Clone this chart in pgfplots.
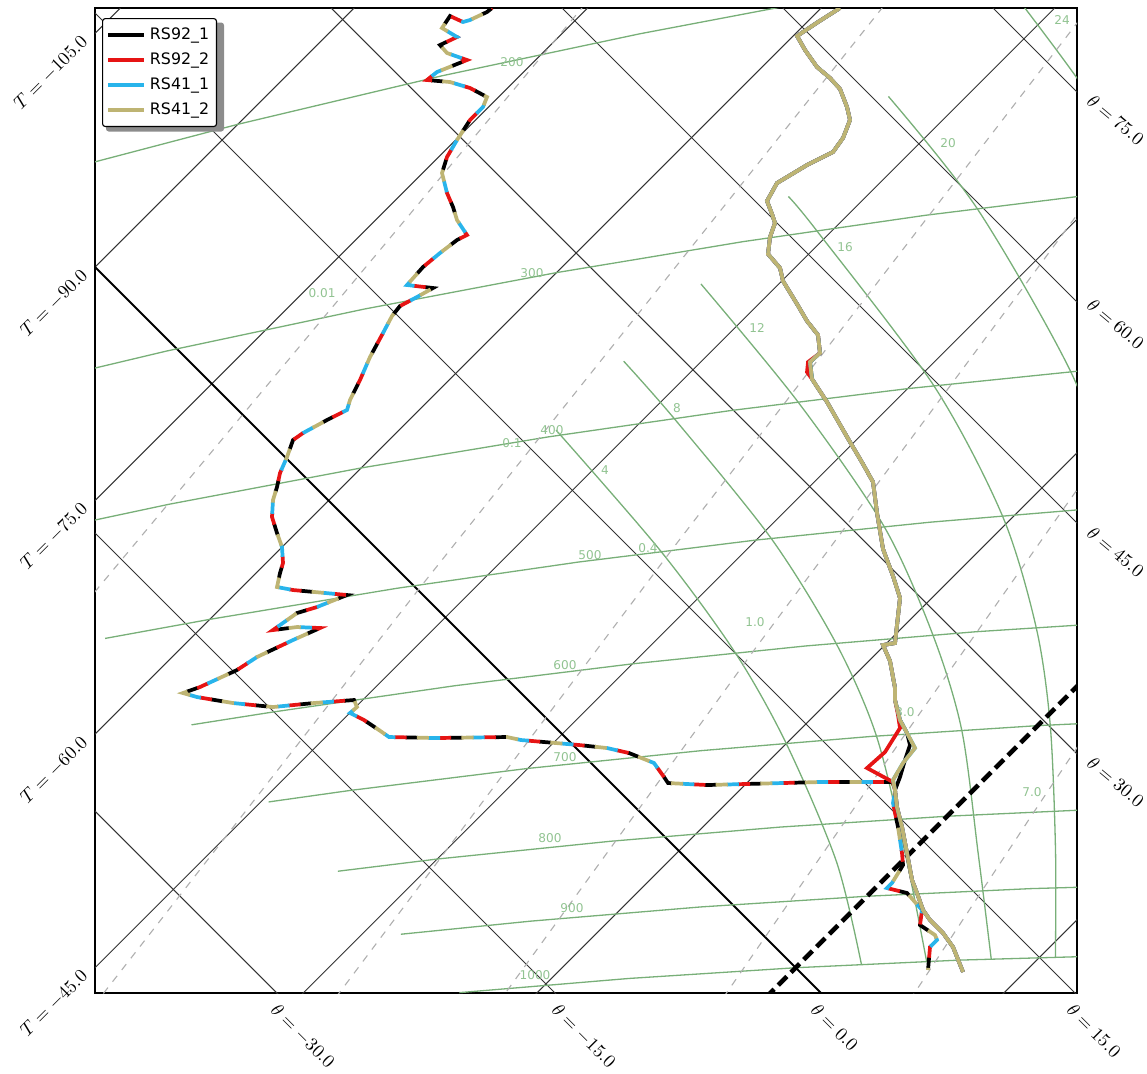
\documentclass[border=0pt]{standalone}
\usepackage{pgfplots}
\pgfplotsset{compat=1.18}
\usepackage{pgfplotstable}
\usepackage{fontspec}
\newfontfamily\dejavu{DejaVu Sans}
\definecolor{rsred}{RGB}{230,20,20}
\definecolor{rscyan}{RGB}{40,180,235}
\definecolor{rstan}{RGB}{190,180,115}
\definecolor{gline}{RGB}{120,175,120}
\definecolor{gtext}{RGB}{145,195,145}
\definecolor{mrline}{RGB}{175,175,175}

% dew point profile (pixel coordinates of the reference)
\pgfplotstableread{
x y
492 8
487 12
470 20
463 22
450 16
442 28
457 37
440 45
447 53
467 60
437 72
427 80
450 82
470 88
487 97
483 107
470 120
457 140
447 157
442 173
447 193
453 207
457 220
467 235
457 240
440 253
423 267
407 285
433 288
417 297
400 306
392 316
383 333
370 357
360 380
350 400
347 410
327 420
303 433
293 440
287 457
280 473
277 487
273 500
272 517
277 533
282 547
283 563
280 573
277 587
293 590
347 595
317 607
297 613
273 630
297 627
320 628
293 640
257 657
237 670
200 687
183 693
197 697
233 703
273 707
314 703
354 700
357 707
350 713
364 720
379 730
389 737
436 738
507 737
521 740
579 745
607 748
629 753
639 757
654 763
664 777
668 783
707 785
820 782
863 782
892 782
895 790
893 803
895 813
898 827
900 840
902 853
903 865
900 870
892 883
887 888
907 893
922 910
920 925
935 935
937 940
930 947
928 970
}\dewpath

% temperature profile
\pgfplotstableread{
x y
840 8
818 22
797 36
805 50
817 67
830 78
840 89
847 107
850 120
843 138
833 152
807 165
777 183
767 201
772 214
775 223
770 237
768 254
780 268
783 281
797 304
807 321
818 335
820 353
810 362
812 379
827 402
850 442
863 464
873 482
877 513
883 549
893 576
900 598
897 625
895 643
883 645
890 661
895 688
895 700
900 720
907 733
915 748
903 763
893 780
895 790
897 807
902 827
907 853
912 880
917 893
923 910
930 920
943 933
953 947
963 972
}\temppath

\pgfplotstableread{
x y
840 8
818 22
797 36
805 50
817 67
830 78
840 89
847 107
850 120
843 138
833 152
807 165
777 183
767 201
772 214
775 223
770 237
768 254
780 268
783 281
797 304
807 321
818 335
820 353
808 362
807 372
812 379
827 402
850 442
863 464
873 482
877 513
883 549
893 576
900 598
897 625
895 643
883 645
890 661
895 688
895 700
898 715
900 728
885 752
867 768
880 775
893 782
895 790
897 807
902 827
907 853
912 880
917 893
923 910
930 920
943 933
953 947
963 972
}\temppathred

\pgfplotstableread{
x y
840 8
818 22
797 36
805 50
817 67
830 78
840 89
847 107
850 120
843 138
833 152
807 165
777 183
767 201
772 214
775 223
770 237
768 254
780 268
783 281
797 304
807 321
818 335
820 353
810 362
812 379
827 402
850 442
863 464
873 482
877 513
883 549
893 576
900 598
897 625
895 643
883 645
890 661
895 688
895 700
900 720
907 733
910 745
905 760
900 777
895 790
897 807
902 827
907 853
912 880
917 893
923 910
930 920
943 933
953 947
963 972
}\temppathblack

\begin{document}
\begin{tikzpicture}
\begin{axis}[
  scale only axis, width=527.92pt, height=529.54pt,
  xmin=95, xmax=1077, ymin=8, ymax=993, y dir=reverse,
  xtick=\empty, ytick=\empty,
  axis line style={black, line width=0.8pt},
  clip=true,
  legend cell align=left,
  legend image code/.code={\draw[#1] (0pt,0pt) -- (15pt,0pt); \path (0pt,0pt) -- (19.5pt,0pt);},
  legend style={at={(axis cs:102,18)}, anchor=north west,
    draw=black, fill=white, line width=0.6pt, rounded corners=1.5pt,
    inner xsep=2pt, inner ysep=3pt, row sep=1.6pt,
    font=\dejavu\fontsize{8.5pt}{10pt}\selectfont},
]
% ---- isotherms (x + y = const)
\pgfplotsset{iso/.style={black!80, line width=0.55pt, forget plot}}
\addplot[iso] coordinates {(0,128.4) (1200,-1071.6)};
\addplot[iso] coordinates {(0,362) (1200,-838)};
\addplot[iso] coordinates {(0,595.6) (1200,-604.4)};
\addplot[iso] coordinates {(0,829.1) (1200,-370.9)};
\addplot[iso] coordinates {(0,1062.7) (1200,-137.3)};
\addplot[iso] coordinates {(0,1296.2) (1200,96.2)};
\addplot[iso] coordinates {(0,1529.8) (1200,329.8)};
\addplot[iso] coordinates {(0,1996.9) (1200,796.9)};
% ---- isentropes (y - x = const)
\addplot[iso] coordinates {(0,716) (1200,1916)};
\addplot[iso] coordinates {(0,438) (1200,1638)};
\addplot[iso] coordinates {(0,-82) (1200,1118)};
\addplot[iso] coordinates {(0,-323.1) (1200,876.9)};
\addplot[iso] coordinates {(0,-554) (1200,646)};
\addplot[iso] coordinates {(0,-775) (1200,425)};
\addplot[iso] coordinates {(0,-985) (1200,215)};
\addplot[black, line width=1.1pt, forget plot] coordinates {(0,172) (1200,1372)};
% ---- isobars
\pgfplotsset{bar/.style={gline, line width=0.7pt, forget plot}}
\addplot[bar] coordinates {(459.3,992.6)(629.2,978.4)(795.7,967.7)(958.9,960.1)(1119.2,955.5)};
\addplot[bar] coordinates {(400.9,934.2)(530.8,921.1)(700.7,906.9)(867.2,896.2)(1030.4,888.6)(1190.7,884.0)};
\addplot[bar] coordinates {(337.9,871.2)(437.2,859.0)(610.8,841.2)(780.7,827.0)(947.1,816.2)(1110.4,808.7)};
\addplot[bar] coordinates {(268.6,801.9)(350.2,790.4)(527.8,768.4)(701.4,750.6)(871.3,736.4)(1037.7,725.6)(1201,718)};
\addplot[bar] coordinates {(191.5,724.8)(272.8,712.0)(454.8,685.7)(632.5,663.8)(806,645.9)(975.9,631.7)(1142.4,621)};
\addplot[bar] coordinates {(105.1,638.4)(209.9,619.3)(396.6,588.3)(578.6,562.0)(756.2,540.0)(929.8,522.2)(1099.7,508.0)};
\addplot[bar] coordinates {(-28.6,546.3)(169.2,504.2)(361.3,467.9)(548,436.9)(730,410.6)(907.6,388.6)(1081.2,370.8)};
\addplot[bar] coordinates {(-37.5,399.5)(166.7,351)(364.5,309)(556.5,272.6)(743.2,241.6)(925.2,215.3)(1102.9,193.4)};
\addplot[bar] coordinates {(-192.6,243.2)(26.6,179.8)(237.8,124.3)(441.9,75.8)(639.7,33.8)(831.7,-2.6)};
% ---- saturated adiabats
\pgfplotsset{wet/.style={gline, line width=0.7pt, smooth, forget plot}}
\addplot[wet] coordinates {(556,430)(661,551.4)(735.3,652.8)(786,743)(836.4,861.5)(861.4,964.3)};
\addplot[wet] coordinates {(623.7,361.2)(674,418.3)(771.1,538.3)(836,643.2)(876.4,735.9)(906,857.4)(926.6,961.4)};
\addplot[wet] coordinates {(700.9,283.9)(797.9,401.8)(884.1,526.5)(932.9,635)(961.7,730)(978.2,853.7)(991.2,958.9)};
\addplot[wet] coordinates {(788.4,196.5)(816.6,230.5)(933.9,385.8)(1002.4,515.8)(1036.2,627.6)(1050.2,724.9)(1055.5,850.3)(1055.4,957)};
\addplot[wet] coordinates {(888.4,96.4)(977.2,208.6)(1070.8,371.8)(1121.5,506.4)};
\addplot[wet] coordinates {(1004,-19.3)(1083.2,87)(1144.9,188.8)};
% ---- mixing ratio lines
\pgfplotsset{mr/.style={mrline, line width=0.6pt, dash pattern=on 4pt off 4pt, forget plot}}
\addplot[mr] coordinates {(-368,1156)(53,642)(707,-142)};
\addplot[mr] coordinates {(21,1099)(424,582.5)(901.5,-16.4)};
\addplot[mr] coordinates {(282.5,1068.5)(671.6,550)(1134,-51)};
\addplot[mr] coordinates {(463.2,1051.2)(753.4,651)(1092,194.6)(1182.7,74.6)};
\addplot[mr] coordinates {(698,1034.3)(905.4,733.8)(1062,510.9)(1166.9,363.2)};
\addplot[mr] coordinates {(893.6,1024.8)(1034,811.8)(1162.5,619.9)};
% ---- 0 degC isotherm
\addplot[black, line width=2.4pt, dash pattern=on 6.5pt off 3.2pt, forget plot] coordinates {(0,1763.3) (1200,563.3)};
% ---- grid labels
\begin{scope}[every node/.style={text=gtext, font=\dejavu\fontsize{6.5pt}{7pt}\selectfont, inner sep=0pt}]
\node at (axis cs:535,975) {1000};
\node at (axis cs:572,908) {900};
\node at (axis cs:550,838) {800};
\node at (axis cs:565,757) {700};
\node at (axis cs:565,665) {600};
\node at (axis cs:590,555) {500};
\node at (axis cs:552,430) {400};
\node at (axis cs:532,273) {300};
\node at (axis cs:512,62) {200};
\node at (axis cs:605,470) {4};
\node at (axis cs:677,408) {8};
\node at (axis cs:757,328) {12};
\node at (axis cs:845,247) {16};
\node at (axis cs:948,143) {20};
\node at (axis cs:1062,20) {24};
\node at (axis cs:322,293) {0.01};
\node at (axis cs:512,443) {0.1};
\node at (axis cs:648,548) {0.4};
\node at (axis cs:755,622) {1.0};
\node at (axis cs:905,712) {3.0};
\node at (axis cs:1032,792) {7.0};
\end{scope}
% ---- dew point profiles (dashed)
\pgfplotsset{dew/.style={line width=2pt, dash pattern=on 6.5pt off 17.5pt, forget plot}}
\addplot[dew, black, dash phase=0pt] table[x=x,y=y]{\dewpath};
\addplot[dew, rsred, dash phase=6pt] table[x=x,y=y]{\dewpath};
\addplot[dew, rscyan, dash phase=12pt] table[x=x,y=y]{\dewpath};
\addplot[dew, rstan, dash phase=18pt] table[x=x,y=y]{\dewpath};
% ---- temperature profiles (solid)
\addplot[black, line width=2pt] table[x=x,y=y]{\temppathblack};
\addlegendentry{RS92\_1}
\addplot[rsred, line width=2pt] table[x=x,y=y]{\temppathred};
\addlegendentry{RS92\_2}
\addplot[rscyan, line width=2pt] table[x=x,y=y]{\temppath};
\addlegendentry{RS41\_1}
\addplot[rstan, line width=2pt] table[x=x,y=y]{\temppath};
\addlegendentry{RS41\_2}
% ---- legend shadow
\fill[black!45, rounded corners=1.5pt] (axis cs:106,22.5) rectangle (axis cs:224,131.5);
\end{axis}
\begin{scope}[x=0.5376pt, y=-0.5376pt, shift={(-51.072pt,533.8368pt)}]
\begin{scope}[every node/.style={inner sep=1pt}]
\node[rotate=45, anchor=east] at (86,37.5) {$T=-105.0$};
\node[rotate=45, anchor=east] at (86,271) {$T=-90.0$};
\node[rotate=45, anchor=east] at (86,504.6) {$T=-75.0$};
\node[rotate=45, anchor=east] at (86,738.1) {$T=-60.0$};
\node[rotate=45, anchor=east] at (86,971.7) {$T=-45.0$};
\node[rotate=-45, anchor=north west] at (279,999) {$\theta=-30.0$};
\node[rotate=-45, anchor=north west] at (560,999) {$\theta=-15.0$};
\node[rotate=-45, anchor=north west] at (819,999) {$\theta=0.0$};
\node[rotate=-45, anchor=north west] at (1075,999) {$\theta=15.0$};
\node[rotate=-40, anchor=north west] at (1094,752) {$\theta=30.0$};
\node[rotate=-40, anchor=north west] at (1094,522) {$\theta=45.0$};
\node[rotate=-40, anchor=north west] at (1094,294) {$\theta=60.0$};
\node[rotate=-40, anchor=north west] at (1094,90) {$\theta=75.0$};
\end{scope}
\pgfresetboundingbox
\path[use as bounding box] (0,0) rectangle (1147,1073);
\end{scope}
\end{tikzpicture}
\end{document}
